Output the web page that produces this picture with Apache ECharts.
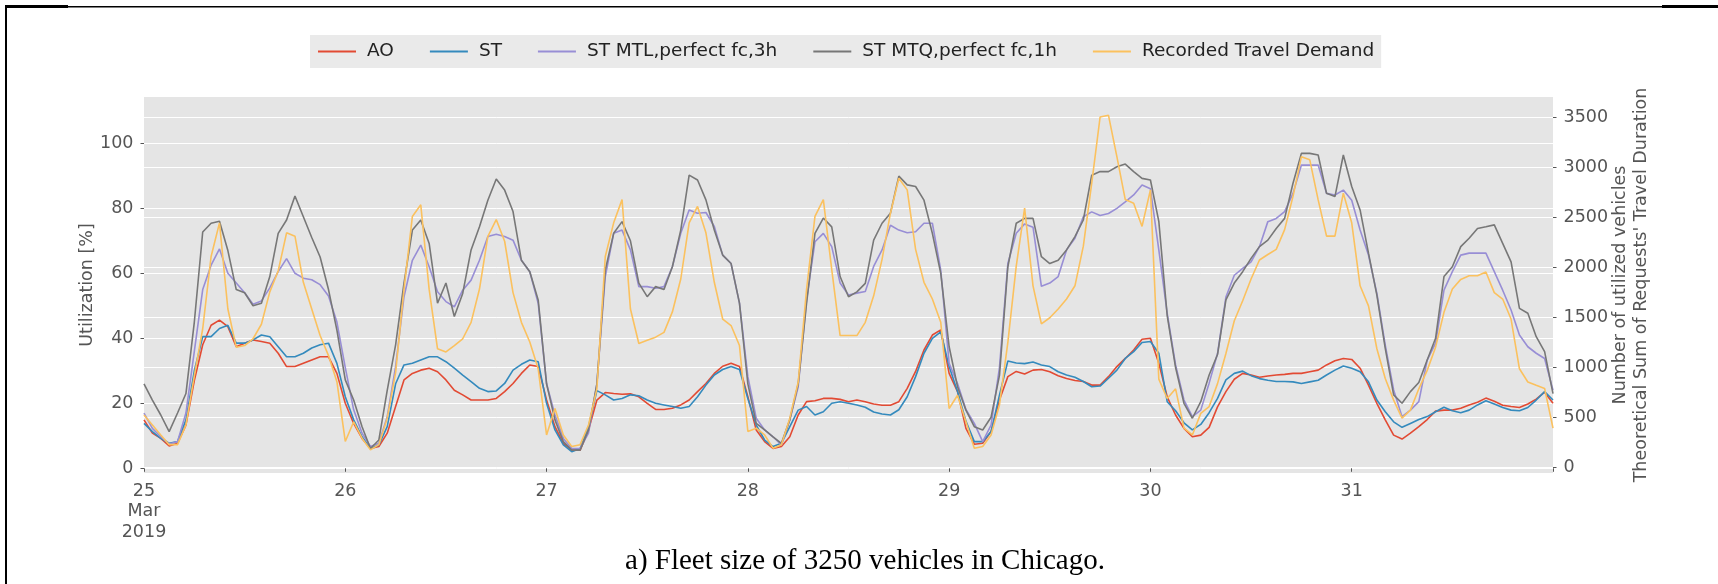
<!DOCTYPE html>
<html>
<head>
<meta charset="utf-8">
<script src="https://cdn.jsdelivr.net/npm/echarts@6/dist/echarts.min.js"></script>
<style>
html,body{margin:0;padding:0;background:#ffffff;}
#chart{width:1718px;height:584px;}
</style>
</head>
<body>
<div id="chart"></div>
<script>
// ---- data (hourly samples from 25 Mar 2019 00:00 to 1 Apr 2019 00:00) ----
const dayLabels = ['25\nMar\n2019', '26', '27', '28', '29', '30', '31', ''];
const leftTicks = [0, 20, 40, 60, 80, 100];
const rightTicks = [0, 500, 1000, 1500, 2000, 2500, 3000, 3500];
const seriesNames = ['AO', 'ST', 'ST MTL,perfect fc,3h', 'ST MTQ,perfect fc,1h', 'Recorded Travel Demand'];
const hours = Array.from({length: 169}, (_, i) => i);

// Utilization [%]
const AO = [14.9,10.8,9.2,6.9,7.7,13.3,27,38,44,45.6,
43.6,37.4,38.5,39.5,39,38.5,35.4,31.3,31.3,32.3,
33.3,34.3,34.3,29.2,20,13.8,9.2,6.1,6.7,10.8,
19,27.2,29.2,30.2,30.8,29.7,27.2,24,22.6,21,
21,21,21.5,23.6,26.1,29.2,31.8,31.3,21,12.8,
7.7,5.6,5.6,11.8,21,23.3,23,22.8,22.9,22,
20,18.1,18.1,18.5,19.5,21,23.6,26.1,29.2,31.4,
32.3,31.3,22,11.8,8.2,6.1,6.7,9.7,16.4,20.5,
20.8,21.5,21.5,21.2,20.5,21,20.5,19.8,19.4,19.4,
20.5,24.6,29.8,36.4,41,42.6,29.2,23.6,12.3,7.4,
7.7,11.3,21,28.2,29.8,29,30.2,30.4,29.7,28.5,
27.6,27,26.7,25.6,25.6,28.2,31.3,33.8,36.4,39.7,
40,32.3,22,16.4,12.3,9.7,10.2,12.6,18.9,23.6,
27.4,29.2,28.7,28,28.4,28.7,28.9,29.2,29.2,29.7,
30.2,31.8,33.1,33.8,33.5,30.8,25.6,20,14.9,10.2,
9,10.8,12.8,15,17.6,17.9,17.9,18.5,19.5,20.3,
21.6,20.6,19.4,19,18.7,19.8,21.3,23.4,20];

const ST = [13.8,11.3,9.2,7.7,8.2,14.9,30,40.5,40.5,43,
44,38.5,38.5,39.5,41,40.5,37.4,34.3,34.3,35.4,
37,38,38.5,32.3,22,14.9,9.7,6.1,7.2,12.8,
26,31.8,32.3,33.3,34.3,34.3,32.8,30.8,28.7,26.7,
24.6,23.6,23.8,26.1,30.2,32,33.3,32.8,20,11.8,
7.2,5.1,6.1,12.8,23.9,22.6,21,21.5,22.6,22.3,
21,20,19.5,19,18.5,19,22,25.6,28.7,30.4,
31.3,30.4,21.5,13.3,8.7,6.7,7.7,12.8,17.9,19,
16.4,17.4,20,20.5,20,19.5,18.8,17.3,16.7,16.4,
18,22,28.2,35.4,40,42,31.3,23.6,14.5,8.2,
8.2,11.3,22.5,33,32.4,32.2,32.7,31.8,31.3,29.7,
28.7,28,26.7,25.1,25.3,27.7,30.2,33.8,35.9,38.7,
39,35.4,20.5,17.7,14,11.8,13.5,17.1,21.5,27.2,
29.2,29.9,28.5,27.6,27.1,26.7,26.7,26.6,26.1,26.6,
27.1,28.7,30.2,31.5,30.8,29.7,26.6,21,17.4,14.3,
12.6,13.8,15,15.9,17.4,18.8,17.7,17.1,17.9,19.5,
20.8,19.8,18.7,17.9,17.7,18.7,21,23.6,21];

const MTL = [17,12.3,9.7,7.5,8.2,17,36,55,62.5,67.5,
60,57,54,50.5,51.5,55.5,60.5,64.5,60,58.5,
58,56.5,53,45,31,18,10.8,6.7,7.7,15.9,
31.3,52.8,64,68.7,62,54.3,51.3,49.7,54.8,57.9,
64,71.3,72,71.3,70.2,64,60.5,50.8,26,16.4,
9.2,6.1,6.1,10.8,26,59,72.3,73.3,67.2,55.9,
55.9,55.4,55.9,62,72.3,79.5,78.5,78.7,74.4,65.6,
63,50.8,28.2,15.4,11.8,9.7,7.2,14.9,25,51.8,
69.7,72.3,68.2,57,53.3,53.9,54.4,62.1,67.2,74.8,
73.3,72.5,72.8,75.4,75.4,61,32.3,26.1,18.1,13.8,
8.2,13.3,31,63,72.3,75.2,74.2,56,57,59,
67.2,70.8,77.4,78.9,77.8,78.4,80,82,84.1,87.2,
86,67.2,47.7,31.8,21,15.9,17.9,26.2,35.3,52.7,
59.4,61.5,63.5,68.2,75.9,76.9,79,84.6,93.3,93.3,
93.3,84.6,84.1,85.6,82.5,73.3,65.6,53.8,37.9,24.1,
15.9,17.9,20.5,33.3,38.5,54.8,60.5,65.6,66.2,66.2,
66.2,60.5,54.8,48.7,41,37.4,35.4,33.8,24];

const MTQ = [26,21,16.4,11.3,17,23,45,72.7,75.4,76,
67,55,54,50,50.8,59,72.3,76.4,83.8,77.4,
71,65,55,42.5,27.2,21,12.8,6.1,8.7,24,
38,57,73.3,76.4,69.2,50.8,57,46.7,53.8,67.2,
74.3,82.5,89,85.6,79,64,60.5,51.8,26,14.9,
8.2,5.6,5.6,11.8,26,61,72.3,75.9,70,57,
52.8,55.9,55,62,73.3,90.2,88.7,82.6,73.3,65.6,
63,50.8,26,13.8,11.8,9.7,7.7,14.9,26,50.8,
72.3,77,74.3,59,52.8,54.3,56.9,70.2,75.4,78.5,
89.9,87.2,86.7,82.5,72.3,60,37.4,25.1,17.9,12.8,
11.8,15.7,28.6,62,75.4,76.9,76.9,65.1,63,64,
67.2,71.3,76.4,90.2,91.3,91.3,92.8,93.6,91.3,89.2,
88.7,76,47,31,20,15.4,20.5,28.7,35,51.8,
57,60.5,64.6,68.2,70.2,73.8,76.9,87.7,96.9,96.9,
96.4,84.6,83.6,96.4,86.7,79.5,66.2,53.3,36.9,22.6,
20,23.6,26.4,33.3,40,59,62,68.2,70.8,73.8,
74.3,74.9,69.2,63.5,49.2,47.7,40.5,35.9,23];

// Theoretical sum of requests' travel duration (right axis)
const RECORDED = [527,427,327,230,230,427,917,1388,2110,2446,
1585,1204,1220,1288,1433,1756,1965,2346,2313,1852,
1585,1320,1120,859,262,459,295,178,230,495,
949,1781,2510,2626,1781,1188,1156,1220,1288,1452,
1785,2310,2478,2262,1749,1452,1256,988,327,591,
327,211,230,427,788,2110,2446,2678,1585,1240,
1272,1304,1352,1556,1885,2446,2610,2346,1852,1485,
1420,1220,362,395,327,195,230,495,853,1781,
2510,2678,1981,1320,1320,1320,1452,1717,2081,2542,
2891,2775,2181,1852,1685,1452,591,724,459,195,
211,327,627,1252,2014,2594,1817,1436,1498,1585,
1685,1817,2213,2842,3503,3520,3107,2678,2642,2410,
2775,885,691,788,395,327,543,611,840,1140,
1468,1668,1885,2075,2130,2181,2378,2710,3107,3075,
2675,2313,2313,2742,2446,1817,1617,1188,891,675,
495,575,788,972,1204,1552,1785,1881,1917,1917,
1955,1749,1685,1485,988,856,823,791,395];

const colors = ['#E24A33', '#348ABD', '#988ED5', '#777777', '#FBC15E'];
const valueSets = [AO, ST, MTL, MTQ, RECORDED];
const axisIdx = [0, 0, 0, 0, 1];

const tickFont = {color: '#555555', fontSize: 17.5, fontFamily: 'DejaVu Sans'};

const chart = echarts.init(document.getElementById('chart'), null, {renderer: 'canvas'});

const series = seriesNames.map((name, k) => ({
  name: name,
  type: 'line',
  yAxisIndex: axisIdx[k],
  data: hours.map((h, i) => [h, valueSets[k][i]]),
  showSymbol: false,
  symbol: 'none',
  lineStyle: {color: colors[k], width: 1.6},
  itemStyle: {color: colors[k]},
  emphasis: {disabled: true},
  z: 2 + k
}));

chart.setOption({
  animation: false,
  backgroundColor: '#ffffff',
  grid: {
    left: 144, top: 97, width: 1409, height: 376,
    show: true, backgroundColor: '#e5e5e5', borderWidth: 0
  },
  legend: {
    left: 310, top: 35,
    padding: [7, 7, 7, 8],
    itemGap: 36, itemWidth: 38, itemHeight: 2.2,
    icon: 'rect',
    backgroundColor: '#eaeaea',
    borderWidth: 0,
    textStyle: {color: '#222222', fontSize: 18.5, fontFamily: 'DejaVu Sans', lineHeight: 19, padding: [0, 0, 0, 6]},
    data: seriesNames
  },
  xAxis: {
    type: 'value', min: 0, max: 168, interval: 24,
    axisLine: {show: false},
    axisTick: {show: true, length: 3.5, lineStyle: {color: '#555555', width: 1}},
    axisLabel: Object.assign({
      margin: 8, lineHeight: 20.5,
      formatter: (v) => dayLabels[Math.round(v / 24)] || ''
    }, tickFont),
    splitLine: {show: false}
  },
  yAxis: [
    {
      type: 'value', position: 'left', min: -1.45, max: 114.25, splitNumber: 6,
      axisLine: {show: false},
      axisTick: {show: true, length: 3.5, customValues: leftTicks, lineStyle: {color: '#555555'}},
      axisLabel: Object.assign({customValues: leftTicks, margin: 10.5, padding: [4, 0, 0, 0],
        formatter: (v) => String(v)}, tickFont),
      splitLine: {show: true, lineStyle: {color: '#ffffff', width: 1}},
      name: 'Utilization [%]',
      nameLocation: 'middle', nameGap: 48, nameMoveOverlap: false,
      nameTextStyle: {color: '#555555', fontSize: 17.5, fontFamily: 'DejaVu Sans'}
    },
    {
      type: 'value', position: 'right', min: -53, max: 3703, splitNumber: 8,
      axisLine: {show: false},
      axisTick: {show: true, length: 3.5, customValues: rightTicks, lineStyle: {color: '#555555'}},
      axisLabel: Object.assign({customValues: rightTicks, margin: 10.5, padding: [4, 0, 0, 0],
        formatter: (v) => String(v)}, tickFont),
      splitLine: {show: true, lineStyle: {color: '#ffffff', width: 1}},
      name: "Number of utilized vehicles\nTheoretical Sum of Requests' Travel Duration",
      nameLocation: 'middle', nameGap: 57, nameMoveOverlap: false,
      nameTextStyle: {color: '#555555', fontSize: 17.5, fontFamily: 'DejaVu Sans', lineHeight: 21}
    }
  ],
  series: series,
  graphic: [
    {type: 'rect', shape: {x: 5, y: 6, width: 1713, height: 1.4}, style: {fill: '#000'}, silent: true},
    {type: 'rect', shape: {x: 5, y: 5, width: 63, height: 3}, style: {fill: '#000'}, silent: true},
    {type: 'rect', shape: {x: 1662, y: 5, width: 56, height: 3}, style: {fill: '#000'}, silent: true},
    {type: 'rect', shape: {x: 5, y: 5, width: 2, height: 579}, style: {fill: '#000'}, silent: true},
    {
      type: 'text', x: 865, y: 561, silent: true,
      style: {
        text: 'a) Fleet size of 3250 vehicles in Chicago.',
        font: '29px "Liberation Serif"',
        fill: '#000', textAlign: 'center', textVerticalAlign: 'middle'
      }
    }
  ]
});
</script>
</body>
</html>
